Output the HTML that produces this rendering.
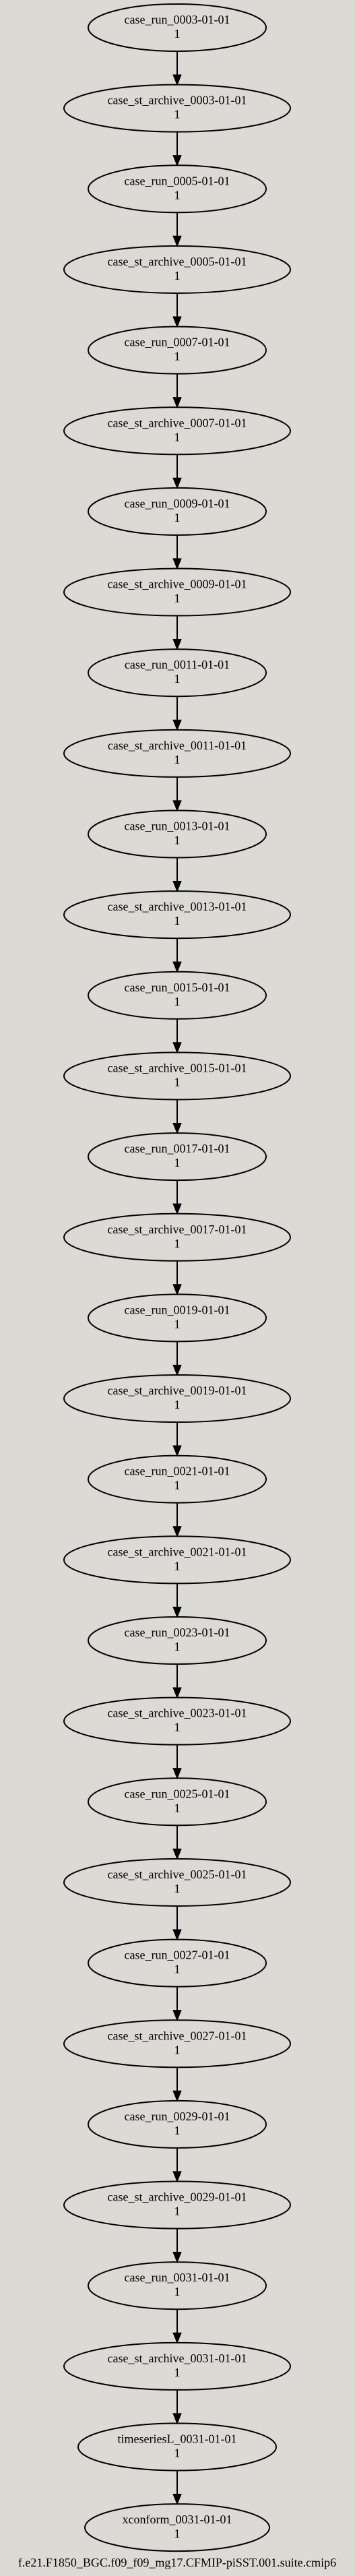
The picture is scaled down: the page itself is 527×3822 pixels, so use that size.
<!DOCTYPE html>
<html><head><meta charset="utf-8"><style>
html,body{margin:0;padding:0;background:#dcdad5;}
svg{display:block;}
text{font-family:"Liberation Serif",serif;font-size:18px;fill:#000;text-anchor:middle;}
ellipse{fill:none;stroke:#000;stroke-width:2;}
line{stroke:#000;stroke-width:2;}
polygon{fill:#000;stroke:#000;stroke-width:1;}
</style></head><body>
<svg width="527" height="3822" viewBox="0 0 527 3822" xmlns="http://www.w3.org/2000/svg">
<rect width="527" height="3822" fill="#dcdad5"/>
<g transform="translate(263,41)"><ellipse rx="132" ry="35"/><text y="-6">case_run_0003-01-01</text><text y="15">1</text><line x1="0" y1="35" x2="0" y2="71"/><polygon points="-6,70 6,70 0,85"/></g>
<g transform="translate(263,160.65)"><ellipse rx="168" ry="35"/><text y="-6">case_st_archive_0003-01-01</text><text y="15">1</text><line x1="0" y1="35" x2="0" y2="71"/><polygon points="-6,70 6,70 0,85"/></g>
<g transform="translate(263,280.3)"><ellipse rx="132" ry="35"/><text y="-6">case_run_0005-01-01</text><text y="15">1</text><line x1="0" y1="35" x2="0" y2="71"/><polygon points="-6,70 6,70 0,85"/></g>
<g transform="translate(263,399.95)"><ellipse rx="168" ry="35"/><text y="-6">case_st_archive_0005-01-01</text><text y="15">1</text><line x1="0" y1="35" x2="0" y2="71"/><polygon points="-6,70 6,70 0,85"/></g>
<g transform="translate(263,519.6)"><ellipse rx="132" ry="35"/><text y="-6">case_run_0007-01-01</text><text y="15">1</text><line x1="0" y1="35" x2="0" y2="71"/><polygon points="-6,70 6,70 0,85"/></g>
<g transform="translate(263,639.25)"><ellipse rx="168" ry="35"/><text y="-6">case_st_archive_0007-01-01</text><text y="15">1</text><line x1="0" y1="35" x2="0" y2="71"/><polygon points="-6,70 6,70 0,85"/></g>
<g transform="translate(263,758.9)"><ellipse rx="132" ry="35"/><text y="-6">case_run_0009-01-01</text><text y="15">1</text><line x1="0" y1="35" x2="0" y2="71"/><polygon points="-6,70 6,70 0,85"/></g>
<g transform="translate(263,878.55)"><ellipse rx="168" ry="35"/><text y="-6">case_st_archive_0009-01-01</text><text y="15">1</text><line x1="0" y1="35" x2="0" y2="71"/><polygon points="-6,70 6,70 0,85"/></g>
<g transform="translate(263,998.2)"><ellipse rx="132" ry="35"/><text y="-6">case_run_0011-01-01</text><text y="15">1</text><line x1="0" y1="35" x2="0" y2="71"/><polygon points="-6,70 6,70 0,85"/></g>
<g transform="translate(263,1117.85)"><ellipse rx="168" ry="35"/><text y="-6">case_st_archive_0011-01-01</text><text y="15">1</text><line x1="0" y1="35" x2="0" y2="71"/><polygon points="-6,70 6,70 0,85"/></g>
<g transform="translate(263,1237.5)"><ellipse rx="132" ry="35"/><text y="-6">case_run_0013-01-01</text><text y="15">1</text><line x1="0" y1="35" x2="0" y2="71"/><polygon points="-6,70 6,70 0,85"/></g>
<g transform="translate(263,1357.15)"><ellipse rx="168" ry="35"/><text y="-6">case_st_archive_0013-01-01</text><text y="15">1</text><line x1="0" y1="35" x2="0" y2="71"/><polygon points="-6,70 6,70 0,85"/></g>
<g transform="translate(263,1476.8)"><ellipse rx="132" ry="35"/><text y="-6">case_run_0015-01-01</text><text y="15">1</text><line x1="0" y1="35" x2="0" y2="71"/><polygon points="-6,70 6,70 0,85"/></g>
<g transform="translate(263,1596.45)"><ellipse rx="168" ry="35"/><text y="-6">case_st_archive_0015-01-01</text><text y="15">1</text><line x1="0" y1="35" x2="0" y2="71"/><polygon points="-6,70 6,70 0,85"/></g>
<g transform="translate(263,1716.1)"><ellipse rx="132" ry="35"/><text y="-6">case_run_0017-01-01</text><text y="15">1</text><line x1="0" y1="35" x2="0" y2="71"/><polygon points="-6,70 6,70 0,85"/></g>
<g transform="translate(263,1835.75)"><ellipse rx="168" ry="35"/><text y="-6">case_st_archive_0017-01-01</text><text y="15">1</text><line x1="0" y1="35" x2="0" y2="71"/><polygon points="-6,70 6,70 0,85"/></g>
<g transform="translate(263,1955.4)"><ellipse rx="132" ry="35"/><text y="-6">case_run_0019-01-01</text><text y="15">1</text><line x1="0" y1="35" x2="0" y2="71"/><polygon points="-6,70 6,70 0,85"/></g>
<g transform="translate(263,2075.05)"><ellipse rx="168" ry="35"/><text y="-6">case_st_archive_0019-01-01</text><text y="15">1</text><line x1="0" y1="35" x2="0" y2="71"/><polygon points="-6,70 6,70 0,85"/></g>
<g transform="translate(263,2194.7)"><ellipse rx="132" ry="35"/><text y="-6">case_run_0021-01-01</text><text y="15">1</text><line x1="0" y1="35" x2="0" y2="71"/><polygon points="-6,70 6,70 0,85"/></g>
<g transform="translate(263,2314.35)"><ellipse rx="168" ry="35"/><text y="-6">case_st_archive_0021-01-01</text><text y="15">1</text><line x1="0" y1="35" x2="0" y2="71"/><polygon points="-6,70 6,70 0,85"/></g>
<g transform="translate(263,2434)"><ellipse rx="132" ry="35"/><text y="-6">case_run_0023-01-01</text><text y="15">1</text><line x1="0" y1="35" x2="0" y2="71"/><polygon points="-6,70 6,70 0,85"/></g>
<g transform="translate(263,2553.65)"><ellipse rx="168" ry="35"/><text y="-6">case_st_archive_0023-01-01</text><text y="15">1</text><line x1="0" y1="35" x2="0" y2="71"/><polygon points="-6,70 6,70 0,85"/></g>
<g transform="translate(263,2673.3)"><ellipse rx="132" ry="35"/><text y="-6">case_run_0025-01-01</text><text y="15">1</text><line x1="0" y1="35" x2="0" y2="71"/><polygon points="-6,70 6,70 0,85"/></g>
<g transform="translate(263,2792.95)"><ellipse rx="168" ry="35"/><text y="-6">case_st_archive_0025-01-01</text><text y="15">1</text><line x1="0" y1="35" x2="0" y2="71"/><polygon points="-6,70 6,70 0,85"/></g>
<g transform="translate(263,2912.6)"><ellipse rx="132" ry="35"/><text y="-6">case_run_0027-01-01</text><text y="15">1</text><line x1="0" y1="35" x2="0" y2="71"/><polygon points="-6,70 6,70 0,85"/></g>
<g transform="translate(263,3032.25)"><ellipse rx="168" ry="35"/><text y="-6">case_st_archive_0027-01-01</text><text y="15">1</text><line x1="0" y1="35" x2="0" y2="71"/><polygon points="-6,70 6,70 0,85"/></g>
<g transform="translate(263,3151.9)"><ellipse rx="132" ry="35"/><text y="-6">case_run_0029-01-01</text><text y="15">1</text><line x1="0" y1="35" x2="0" y2="71"/><polygon points="-6,70 6,70 0,85"/></g>
<g transform="translate(263,3271.55)"><ellipse rx="168" ry="35"/><text y="-6">case_st_archive_0029-01-01</text><text y="15">1</text><line x1="0" y1="35" x2="0" y2="71"/><polygon points="-6,70 6,70 0,85"/></g>
<g transform="translate(263,3391.2)"><ellipse rx="132" ry="35"/><text y="-6">case_run_0031-01-01</text><text y="15">1</text><line x1="0" y1="35" x2="0" y2="71"/><polygon points="-6,70 6,70 0,85"/></g>
<g transform="translate(263,3510.85)"><ellipse rx="168" ry="35"/><text y="-6">case_st_archive_0031-01-01</text><text y="15">1</text><line x1="0" y1="35" x2="0" y2="71"/><polygon points="-6,70 6,70 0,85"/></g>
<g transform="translate(263,3630.5)"><ellipse rx="147" ry="35"/><text y="-6">timeseriesL_0031-01-01</text><text y="15">1</text><line x1="0" y1="35" x2="0" y2="71"/><polygon points="-6,70 6,70 0,85"/></g>
<g transform="translate(263,3750.15)"><ellipse rx="137" ry="35"/><text y="-6">xconform_0031-01-01</text><text y="15">1</text></g>
<text x="263" y="3808">f.e21.F1850_BGC.f09_f09_mg17.CFMIP-piSST.001.suite.cmip6</text>
</svg>
</body></html>
